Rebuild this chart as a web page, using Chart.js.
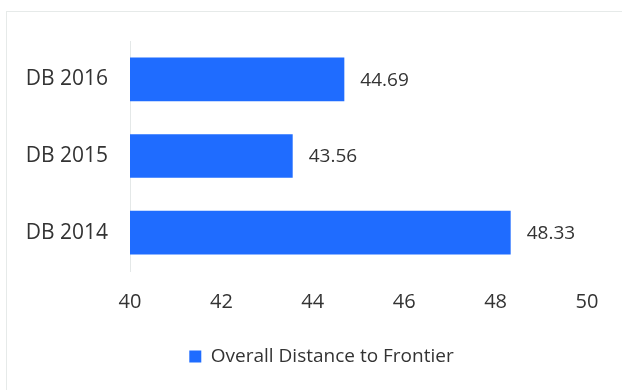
<!DOCTYPE html>
<html><head><meta charset="utf-8">
<script src="https://cdn.jsdelivr.net/npm/chart.js@4/dist/chart.umd.min.js"></script>
<style>
html,body{margin:0;padding:0;background:#fff;}
#wrap{position:absolute;left:0;top:0;width:622px;height:390px;}
#frame{position:absolute;left:6px;top:11px;width:640px;height:400px;border:1px solid #e6eae9;box-sizing:border-box;}
</style></head>
<body>
<div id="frame"></div>
<div id="wrap"><canvas id="c" width="622" height="390"></canvas></div>
<script>
const categories = ["DB 2016", "DB 2015", "DB 2014"];
const values = [44.69, 43.56, 48.33];
const seriesName = "Overall Distance to Frontier";
const xMin = 40, xMax = 50, xStep = 2;

const labelPlugin = {
  id: 'valLabels',
  afterDatasetsDraw(chart) {
    const ctx = chart.ctx;
    const meta = chart.getDatasetMeta(0);
    ctx.save();
    ctx.font = '19px "Open Sans"';
    ctx.fillStyle = '#333';
    ctx.textBaseline = 'middle';
    ctx.textAlign = 'left';
    meta.data.forEach((bar, i) => {
      ctx.fillText(values[i].toFixed(2), bar.x + 16, bar.y + 1);
    });
    ctx.restore();
  }
};

const legendShift = {
  id: 'legendShift',
  afterLayout(chart) {
    if (chart.legend) { chart.legend.left += 28; chart.legend.right += 28; }
  }
};

new Chart(document.getElementById('c'), {
  type: 'bar',
  data: {
    labels: categories,
    datasets: [{
      label: seriesName,
      data: values,
      backgroundColor: '#1f6cff',
      barPercentage: 0.57,
      categoryPercentage: 1.0,
      base: xMin
    }]
  },
  options: {
    indexAxis: 'y',
    responsive: false,
    animation: false,
    devicePixelRatio: 1,
    layout: { padding: { left: 0, right: 35, top: 41, bottom: 14 } },
    plugins: {
      legend: {
        position: 'bottom',
        labels: {
          boxWidth: 12, boxHeight: 12, color: '#333',
          font: { family: '"Open Sans"', size: 19 },
          padding: 20
        }
      },
      tooltip: { enabled: false }
    },
    scales: {
      x: {
        min: xMin, max: xMax,
        ticks: { stepSize: xStep, color: '#333', font: { family: '"Open Sans"', size: 20 }, padding: 19 },
        grid: { display: false, drawTicks: false },
        border: { display: false },
        afterFit(scale) { scale.height = 56; }
      },
      y: {
        ticks: { color: '#333', font: { family: '"Open Sans"', size: 21 }, padding: 22 },
        grid: { display: false, drawTicks: false },
        border: { display: true, color: '#e4e8e8', width: 1 },
        afterFit(scale) { scale.width = 130; }
      }
    }
  },
  plugins: [labelPlugin, legendShift]
});
</script>
</body></html>
